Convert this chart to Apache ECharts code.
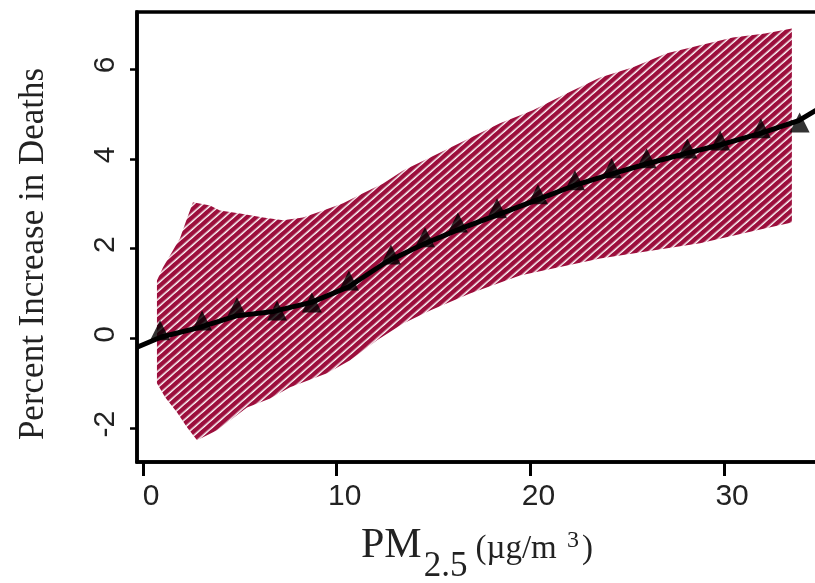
<!DOCTYPE html>
<html>
<head>
<meta charset="utf-8">
<script src="https://cdn.jsdelivr.net/npm/echarts@6/dist/echarts.min.js"></script>
<style>
  html, body { margin: 0; padding: 0; background: #fff; }
  #chart { width: 815px; height: 583px; }
</style>
</head>
<body>
<div id="chart"></div>
<script>
// Tick positions on both axes
const xTicks = [0, 10, 20, 30];
const yTicks = [-2, 0, 2, 4, 6];

// Point estimates: PM2.5 level and percent increase in deaths
const pmPoints = [0.88, 3.05, 4.85, 6.92, 8.72, 10.63, 12.8, 14.56, 16.26, 18.28,
                  20.39, 22.3, 24.2, 26.0, 28.1, 29.8, 31.9, 33.9];
const pointIncrease = [0.18, 0.40, 0.69, 0.62, 0.80, 1.29, 1.87, 2.25, 2.58, 2.90,
                       3.21, 3.52, 3.79, 4.01, 4.23, 4.41, 4.68, 4.81];

// Fitted curve
const fitX = [-0.31, 0.94, 2.88, 4.82, 6.75, 8.69, 10.63, 12.56, 14.5, 16.43, 18.37,
              20.3, 22.24, 24.17, 26.11, 28.04, 29.98, 31.92, 33.85, 35.2];
const fitY = [-0.2, 0.03, 0.24, 0.5, 0.6, 0.8, 1.15, 1.7, 2.1, 2.45, 2.76, 3.08,
              3.4, 3.66, 3.9, 4.12, 4.33, 4.57, 4.85, 5.2];

// Confidence band outline: upper edge and lower edge, both left to right
const bandUpper = [
  [0.72, 1.29], [1.03, 1.58], [1.49, 1.92], [1.91, 2.23], [2.27, 2.67], [2.58, 3.03],
  [3.46, 2.96], [3.97, 2.85], [5.01, 2.78], [6.2, 2.69], [7.23, 2.63], [8.26, 2.69],
  [9.3, 2.85], [10.33, 3.01], [11.36, 3.23], [12.4, 3.45], [13.43, 3.74], [14.82, 4.03],
  [16.62, 4.41], [18.43, 4.79], [20.13, 5.08], [21.89, 5.46], [23.6, 5.81], [25.3, 6.04],
  [27.05, 6.35], [28.76, 6.53], [30.46, 6.7], [32.11, 6.79], [33.5, 6.9]
];
const bandLower = [
  [0.72, -1.0], [1.14, -1.31], [1.76, -1.65], [2.27, -1.98], [2.79, -2.27], [3.82, -2.05],
  [5.37, -1.54], [6.56, -1.34], [7.59, -1.09], [9.5, -0.78], [10.69, -0.49], [12.08, -0.04],
  [13.43, 0.33], [14.82, 0.62], [16.88, 1.0], [19.46, 1.4], [23.6, 1.78], [28.76, 2.12],
  [31.69, 2.41], [33.5, 2.58]
];

const BAND_COLOR = '#9C0E3C';

// Hatch tile: crimson with a thin white stripe, rotated when filled
function hatchTile() {
  const c = document.createElement('canvas');
  c.width = 12; c.height = 6;
  const ctx = c.getContext('2d');
  ctx.fillStyle = BAND_COLOR;
  ctx.fillRect(0, 0, 12, 6);
  ctx.fillStyle = '#ffffff';
  ctx.fillRect(0, 4.5, 12, 1.5);
  return c;
}
const hatch = { image: hatchTile(), repeat: 'repeat', rotation: -0.72 };

const outline = bandUpper.concat(bandLower.slice().reverse());

const chart = echarts.init(document.getElementById('chart'), null, { renderer: 'canvas' });

const serif = 'Liberation Serif, Times New Roman, serif';
const sans = 'Liberation Sans, Arial, sans-serif';
const frame = { color: '#000', width: 3.5 };

chart.setOption({
  animation: false,
  backgroundColor: '#fff',
  grid: {
    left: 137, top: 12, right: -10, bottom: 121,
    show: true, borderColor: '#000', borderWidth: 3.5,
    backgroundColor: 'transparent',
    outerBoundsMode: 'none'
  },
  xAxis: {
    type: 'value',
    min: -0.31, max: 35.21,
    splitLine: { show: false },
    axisLine: { show: true, onZero: false, lineStyle: frame },
    axisTick: { show: true, customValues: xTicks, length: 14, lineStyle: { color: '#000', width: 3 } },
    axisLabel: {
      customValues: xTicks,
      margin: 20,
      fontFamily: sans,
      fontSize: 30,
      color: '#222',
      padding: [0, 0, 0, 16]
    },
    name: '{pm|PM}{sub|2.5}{unit|(µg/m }{sup|3}{unit|)}',
    nameLocation: 'middle',
    nameGap: 63,
    nameTextStyle: {
      fontFamily: serif,
      color: '#222',
      padding: [0, 8, 0, 0],
      rich: {
        pm:   { fontFamily: serif, fontSize: 42, lineHeight: 42, verticalAlign: 'top', color: '#222' },
        sub:  { fontFamily: serif, fontSize: 35, lineHeight: 35, verticalAlign: 'top', padding: [24, 8, 0, 2], color: '#222' },
        unit: { fontFamily: serif, fontSize: 33, lineHeight: 33, verticalAlign: 'top', padding: [8, 0, 0, 0], color: '#222' },
        sup:  { fontFamily: serif, fontSize: 24, lineHeight: 24, verticalAlign: 'top', padding: [4, 3, 0, 2], color: '#222' }
      }
    }
  },
  yAxis: {
    type: 'value',
    min: -2.755, max: 7.27,
    splitLine: { show: false },
    axisLine: { show: true, onZero: false, lineStyle: frame },
    axisTick: { show: true, customValues: yTicks, length: 7, lineStyle: { color: '#000', width: 2.5 } },
    axisLabel: {
      customValues: yTicks,
      rotate: 90,
      margin: 16,
      fontFamily: sans,
      fontSize: 30,
      color: '#222',
      padding: [0, 0, 0, 8]
    },
    name: 'Percent Increase in Deaths',
    nameLocation: 'middle',
    nameRotate: 90,
    nameGap: 86,
    nameTextStyle: {
      fontFamily: serif,
      fontSize: 35,
      color: '#222',
      padding: [0, 34, 0, 0]
    }
  },
  series: [
    {
      type: 'custom',
      name: 'band',
      coordinateSystem: 'cartesian2d',
      data: outline,
      encode: { x: 0, y: 1 },
      z: 1,
      silent: true,
      renderItem: function (params, api) {
        if (params.dataIndex !== 0) return null;
        const pts = outline.map(function (p) { return api.coord(p); });
        return {
          type: 'polygon',
          shape: { points: pts },
          style: { fill: hatch, stroke: null }
        };
      }
    },
    {
      type: 'line',
      name: 'fit',
      data: fitX.map(function (x, i) { return [x, fitY[i]]; }),
      showSymbol: false,
      symbol: 'none',
      lineStyle: { color: '#000', width: 5 },
      z: 3,
      silent: true
    },
    {
      type: 'scatter',
      name: 'points',
      data: pmPoints.map(function (x, i) { return [x, pointIncrease[i]]; }),
      symbol: 'triangle',
      symbolSize: [20, 20],
      itemStyle: { color: '#000' },
      z: 4,
      silent: true
    }
  ]
});
</script>
</body>
</html>
